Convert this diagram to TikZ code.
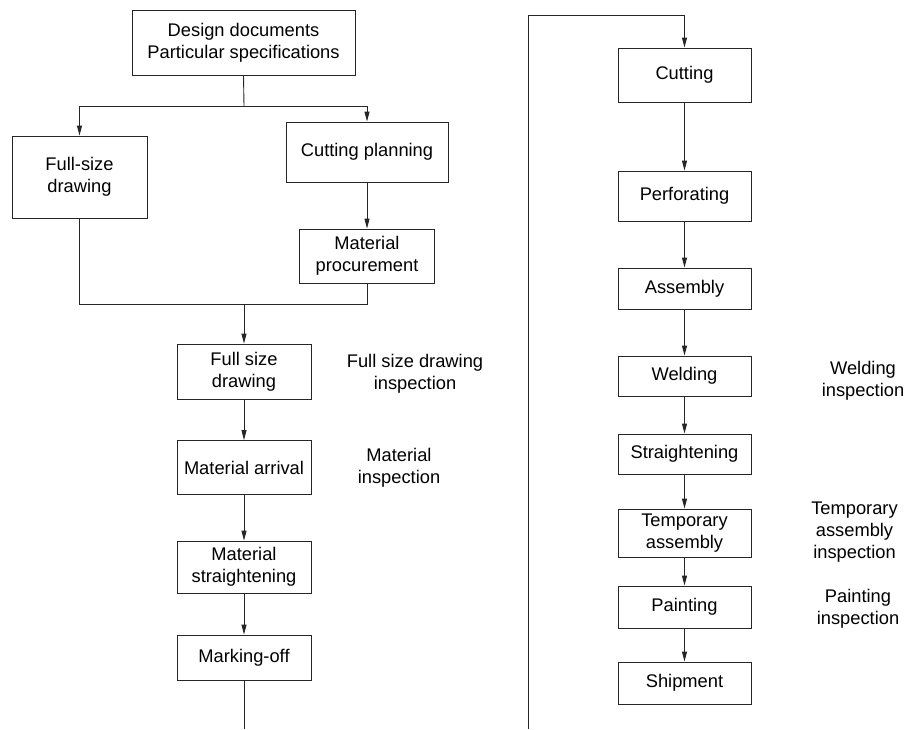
\documentclass[tikz,border=0pt]{standalone}
\usepackage{fontspec}
\setmainfont{Liberation Sans}
\usetikzlibrary{arrows.meta}
\begin{document}
\begin{tikzpicture}[x=1pt,y=-1pt,
  every node/.style={font=\fontsize{18.3}{21.7}\selectfont, align=center, inner sep=0pt},
  box/.style={draw=black!85, line width=0.9pt, minimum width=#1},
  box/.default=134pt,
  lbl/.style={},
  conn/.style={draw=black!85, line width=0.9pt},
  arr/.style={conn, -{Triangle[length=10pt,width=5pt]}}]
\useasboundingbox (0,0) rectangle (910,729);

% left column
\node[box=223pt, minimum height=65pt] (design) at (243.5,42.5) {Design documents\\Particular specifications};
\node[box=135pt, minimum height=82pt] (fsd) at (79.5,177) {Full-size\\drawing};
\node[box=162pt, minimum height=60pt] (cutplan) at (367,152) {Cutting planning};
\node[box=135pt, minimum height=54pt] (matproc) at (367,256) {Material\\procurement};
\node[box, minimum height=55pt] (fsd2) at (244,371.5) {Full size\\drawing};
\node[box, minimum height=54pt] (matarr) at (244,467.5) {Material arrival};
\node[box, minimum height=52pt] (matstr) at (244,567) {Material\\straightening};
\node[box, minimum height=45pt] (mark) at (244,657.5) {Marking-off};

\coordinate (split) at (244,106);
\coordinate (join) at (244,304);
\coordinate (endL) at (244,729);

\draw[conn] (design.south) -- (split);
\draw[arr] (split) -| (fsd.north);
\draw[arr] (split) -| (cutplan.north);
\draw[arr] (cutplan.south) -- (matproc.north);
\draw[conn] (fsd.south) |- (join);
\draw[conn] (matproc.south) |- (join);
\draw[arr] (join) -- (fsd2.north);
\draw[arr] (fsd2.south) -- (matarr.north);
\draw[arr] (matarr.south) -- (matstr.north);
\draw[arr] (matstr.south) -- (mark.north);
\draw[conn] (mark.south) -- (endL);

\node[lbl] (fsdi) at (415,374) {Full size drawing\\inspection};
\node[lbl] (mati) at (399,468) {Material\\inspection};

% right column
\node[box=133pt, minimum height=54pt] (cut) at (684.5,75) {Cutting};
\node[box=133pt, minimum height=50pt] (perf) at (684.5,196) {Perforating};
\node[box=133pt, minimum height=41pt] (asm) at (684.5,288.5) {Assembly};
\node[box=133pt, minimum height=40pt] (weld) at (684.5,376) {Welding};
\node[box=133pt, minimum height=40pt] (str) at (684.5,454) {Straightening};
\node[box=133pt, minimum height=48pt] (temp) at (684.5,533) {Temporary\\assembly};
\node[box=133pt, minimum height=42pt] (paint) at (684.5,607) {Painting};
\node[box=133pt, minimum height=42pt] (ship) at (684.5,683) {Shipment};

\coordinate (startR) at (528.5,729);
\coordinate (topR) at (528.5,15);
\draw[arr] (startR) -- (topR) -| (cut.north);
\draw[arr] (cut.south) -- (perf.north);
\draw[arr] (perf.south) -- (asm.north);
\draw[arr] (asm.south) -- (weld.north);
\draw[arr] (weld.south) -- (str.north);
\draw[arr] (str.south) -- (temp.north);
\draw[arr] (temp.south) -- (paint.north);
\draw[arr] (paint.south) -- (ship.north);

\node[lbl] (weldi) at (863,381) {Welding\\inspection};
\node[lbl] (tempi) at (854.5,532) {Temporary\\assembly\\inspection};
\node[lbl] (painti) at (858,609) {Painting\\inspection};
\end{tikzpicture}
\end{document}
